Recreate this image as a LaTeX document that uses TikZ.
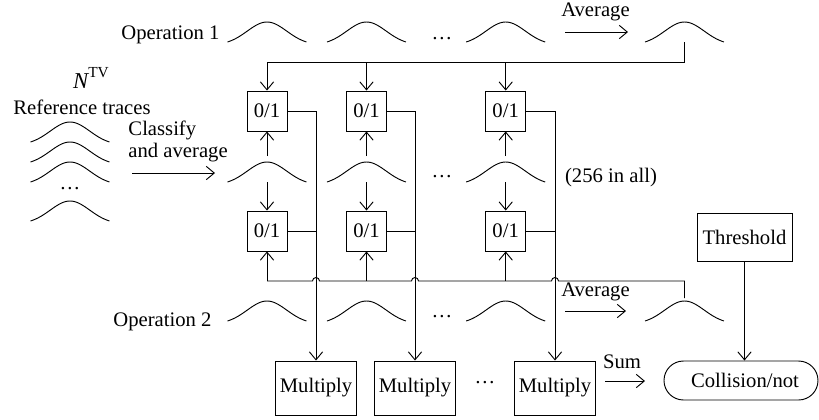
\documentclass[tikz,border=0pt]{standalone}
\usepackage{fontspec}
\setmainfont{Liberation Serif}
\usetikzlibrary{arrows.meta,shapes.misc,calc}

\begin{document}
\begin{tikzpicture}[x=0.75pt,y=-0.75pt,line width=0.7pt,
  font=\fontsize{15.5}{18}\selectfont,
  arr/.style={-{Straight Barb[length=6pt,width=10pt]}},
  lbl/.style={inner sep=0pt},
  cell/.style={draw,minimum width=30pt,minimum height=30pt,inner sep=0pt},
  mult/.style={draw,minimum width=60.75pt,minimum height=40.5pt,inner sep=0pt},
  bump/.pic={
    \draw plot[domain=-1:1,samples=41,smooth]
      ({39.5*\x},{-20*(exp(-2*\x*\x)-0.1353)/0.8647});
    \coordinate (-top) at (0,-20);
    \coordinate (-base) at (0,0);
  }]
\useasboundingbox (0,0) rectangle (819,419);

% column positions
\def\cA{267}\def\cB{366.5}\def\cC{505.7}
\def\oA{316}\def\oB{415}\def\oC{555}

% left: reference traces
\node[lbl] (ntv) at (91,78) {{\fontsize{17}{17}\selectfont\itshape N}\raisebox{0.5em}{\fontsize{11.5}{11.5}\selectfont TV}};
\node[lbl] (ref) at (82,107) {Reference traces};
\pic (r1) at (70,142) {bump};
\pic (r2) at (70,162) {bump};
\pic (r3) at (70,182) {bump};
\node[lbl] (rdots) at (70,189) {\dots};
\pic (r4) at (70,221) {bump};
\node[lbl,anchor=west] (cls) at (128,130) {Classify};
\node[lbl,anchor=west] (cav) at (128,153) {and average};
\coordinate (ca0) at (132,173);
\coordinate (ca1) at (215,173);
\draw[arr] (ca0) -- (ca1);

% operation 1 row
\node[lbl,anchor=east] (op1) at (220,35) {Operation 1};
\pic (t1) at (\cA,42) {bump};
\pic (t2) at (\cB,42) {bump};
\pic (t3) at (\cC,42) {bump};
\node[lbl] (tdots) at (442,39) {\dots};
\node[lbl] (avgA) at (595.5,12) {Average};
\coordinate (aa0) at (565,32);
\coordinate (aa1) at (628,32);
\draw[arr] (aa0) -- (aa1);
\pic (avg1) at (684.5,42) {bump};

% middle row of averaged traces
\pic (m1) at (\cA,182) {bump};
\pic (m2) at (\cB,182) {bump};
\pic (m3) at (\cC,182) {bump};
\node[lbl] (mdots) at (442,177) {\dots};
\node[lbl] (all) at (611,178) {(256 in all)};

% comparison cells
\node[cell] (a1) at (\cA,111) {0/1};
\node[cell] (a2) at (\cB,111) {0/1};
\node[cell] (a3) at (\cC,111) {0/1};
\node[cell] (b1) at (\cA,231) {0/1};
\node[cell] (b2) at (\cB,231) {0/1};
\node[cell] (b3) at (\cC,231) {0/1};

% operation 2 row
\node[lbl,anchor=east] (op2) at (212,322) {Operation 2};
\pic (u1) at (\cA,321) {bump};
\pic (u2) at (\cB,321) {bump};
\pic (u3) at (\cC,321) {bump};
\node[lbl] (udots) at (442,317) {\dots};
\node[lbl] (avgB) at (595.5,292) {Average};
\coordinate (ab0) at (565,311);
\coordinate (ab1) at (626,311);
\draw[arr] (ab0) -- (ab1);
\pic (avg2) at (684.5,321) {bump};

% multipliers and decision
\node[mult] (p1) at (\oA,388) {Multiply};
\node[mult] (p2) at (\oB,388) {Multiply};
\node[mult] (p3) at (\oC,388) {Multiply};
\node[lbl] (pdots) at (485,383) {\dots};
\node[lbl] (sum) at (622,362) {Sum};
\coordinate (s0) at (605,381);
\coordinate (s1) at (645,381);
\draw[arr] (s0) -- (s1);
\node[draw,rounded rectangle,minimum width=115.5pt,minimum height=29.25pt,inner sep=0pt]
  (coll) at (741,380.5) {\hspace{6pt}Collision/not};
\node[draw,minimum width=71.25pt,minimum height=36pt,inner sep=0pt]
  (thr) at (744.5,237) {Threshold};
\draw[arr] (thr.south) -- (thr.south |- coll.north);

% upper bus: averaged operation 1 trace to the upper cells
\coordinate (bus1) at (0,62);
\coordinate (bus2) at (0,281);
\draw (avg1-base) -- (avg1-base |- bus1) -- (a1.north |- bus1);
\foreach \i in {1,2,3}{
  \draw[arr] (a\i.north |- bus1) -- (a\i.north);
  \draw[arr] ($(m\i-top)+(0,-6)$) -- (a\i.south);
  \draw[arr] (m\i-base) -- (b\i.north);
  \draw[arr] (a\i.east) -| (p\i.north);
  \draw (b\i.east) -- (b\i.east -| p\i.north);
  \draw[arr] (b\i.south |- bus2) -- (b\i.south);
}

% lower bus with hops over the cell outputs
\draw ($(avg2-top)+(0,-3)$) -- (avg2-top |- bus2)
  -- ($(p3.north |- bus2)+(3.5,0)$) arc[start angle=0,end angle=-180,radius=3.5]
  -- ($(p2.north |- bus2)+(3.5,0)$) arc[start angle=0,end angle=-180,radius=3.5]
  -- ($(p1.north |- bus2)+(3.5,0)$) arc[start angle=0,end angle=-180,radius=3.5]
  -- (b1.south |- bus2);
\end{tikzpicture}
\end{document}
